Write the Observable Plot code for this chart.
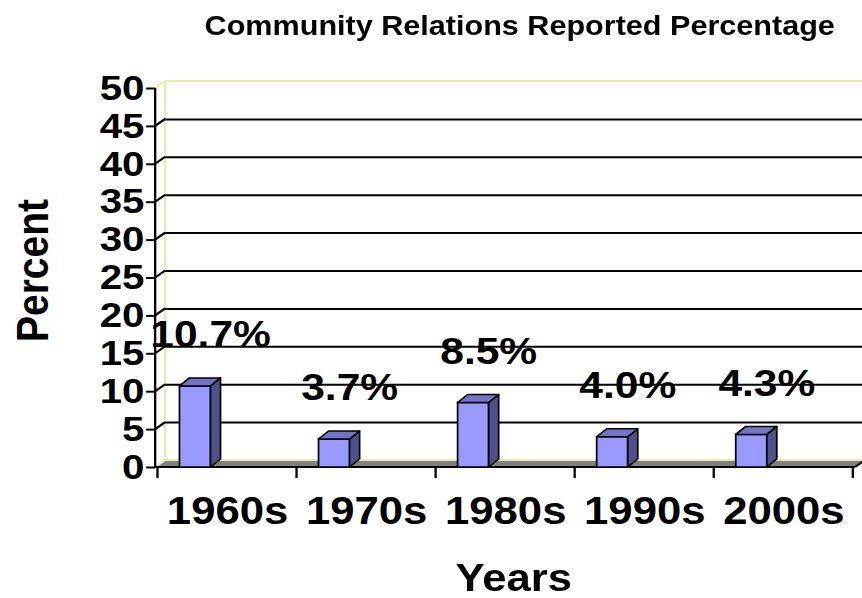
<!DOCTYPE html>
<html>
<head>
<meta charset="utf-8">
<script src="https://cdn.jsdelivr.net/npm/d3@7"></script>
<script src="https://cdn.jsdelivr.net/npm/@observablehq/plot@0.6"></script>
<style>
  html, body { margin: 0; padding: 0; background: #fff; }
  #wrap { width: 750px; transform-origin: 0 0; font-family: "Liberation Sans", Arial, sans-serif; }
  #title { position: relative; height: 50px; }
  #title span { position: absolute; top: 12.3px; left: 178.4px; font-weight: bold; font-size: 28px; line-height: 1; white-space: nowrap; color: #000; transform: scaleX(0.95); transform-origin: 0 0; }
</style>
</head>
<body>
<div id="wrap">
  <div id="title"><span>Community Relations Reported Percentage</span></div>
  <div id="chart"></div>
</div>
<script>
const categories = ["1960s", "1970s", "1980s", "1990s", "2000s"];
const values = [10.7, 3.7, 8.5, 4.0, 4.3];
const valueLabels = ["10.7%", "3.7%", "8.5%", "4.0%", "4.3%"];
const yTicks = [0, 5, 10, 15, 20, 25, 30, 35, 40, 45, 50];

const W = 750, FINAL_W = 862, S = FINAL_W / W;
document.getElementById("wrap").style.transform = `scaleX(${S})`;

const data = categories.map((c, i) => ({cat: c, value: values[i], label: valueLabels[i]}));

const DX = 10 / S, DY = 7, BDY = 8;
const insetL = 22 / S, insetR = 86 / S;
const pale = "#EDEAAF";

function wallAndFloor(index, scales, values, dims) {
  const x = scales.x, y = scales.y;
  const fl = dims.marginLeft, fr = dims.width - dims.marginRight;
  const y0 = y(0), yTop = y(yTicks[yTicks.length - 1]);
  const g = d3.create("svg:g");
  g.append("polygon")
    .attr("points", [[fl, y0], [fl + DX, y0 - DY], [fr + DX, y0 - DY], [fr, y0]].map(p => p.join(",")).join(" "))
    .attr("fill", "#808080");
  const paleLines = [
    [fl + DX, y0 - DY, fr + DX, y0 - DY],
    [fl + DX, y0 - DY, fl + DX, yTop - DY],
    [fl + DX, yTop - DY, fr + DX, yTop - DY]
  ];
  for (const [a, b, c, d] of paleLines)
    g.append("line").attr("x1", a).attr("y1", b).attr("x2", c).attr("y2", d)
      .attr("stroke", pale).attr("stroke-width", 2);
  for (const t of yTicks) {
    const edge = t === yTicks[0] || t === yTicks[yTicks.length - 1];
    g.append("line").attr("x1", fl).attr("y1", y(t)).attr("x2", fl + DX).attr("y2", y(t) - DY)
      .attr("stroke", edge ? pale : "#000").attr("stroke-width", 2);
  }
  return g.node();
}

function axesLines(index, scales, values, dims) {
  const x = scales.x, y = scales.y;
  const fl = dims.marginLeft, fr = dims.width - dims.marginRight;
  const y0 = y(0), yTop = y(yTicks[yTicks.length - 1]);
  const g = d3.create("svg:g").attr("stroke", "#000").attr("stroke-width", 2);
  g.append("line").attr("x1", fl).attr("x2", fl).attr("y1", yTop).attr("y2", y0 + 1);
  g.append("line").attr("x1", fl).attr("x2", fr).attr("y1", y0).attr("y2", y0);
  const bounds = categories.map(c => x(c)).concat([x(categories[categories.length - 1]) + x.bandwidth()]);
  for (const b of bounds)
    g.append("line").attr("x1", b).attr("x2", b).attr("y1", y0).attr("y2", y0 + 11);
  g.append("line").attr("x1", fr).attr("y1", y0).attr("x2", fr + DX).attr("y2", y0 - DY);
  return g.node();
}

function barDepth(index, scales, values, dims) {
  const x = scales.x, y = scales.y, bw = x.bandwidth();
  const g = d3.create("svg:g").attr("stroke", "#000").attr("stroke-width", 1.5).attr("stroke-linejoin", "round");
  for (const d of data) {
    const L = x(d.cat) + insetL, R = x(d.cat) + bw - insetR;
    const T = y(d.value), B = y(0);
    g.append("polygon")
      .attr("points", [[R, B], [R, T], [R + DX, T - BDY], [R + DX, B - BDY]].map(p => p.join(",")).join(" "))
      .attr("fill", "#50508C");
    g.append("polygon")
      .attr("points", [[L, T], [R, T], [R + DX, T - BDY], [L + DX, T - BDY]].map(p => p.join(",")).join(" "))
      .attr("fill", "#7474C6");
  }
  return g.node();
}

const plot = Plot.plot({
  width: W,
  height: 548,
  marginLeft: 135,
  marginRight: 6,
  marginTop: 38,
  marginBottom: 131,
  x: {domain: categories, padding: 0, axis: null, label: null},
  y: {domain: [0, 50], axis: null, label: null},
  style: {fontFamily: "'Liberation Sans', Arial, sans-serif", fontWeight: "bold", background: "#fff", color: "#000", overflow: "visible"},
  marks: [
    wallAndFloor,
    Plot.ruleY(yTicks.slice(1, -1), {dx: DX, dy: -DY, stroke: "#000", strokeWidth: 2}),
    axesLines,
    Plot.barY(data, {x: "cat", y: "value", fill: "#9999FF", stroke: "#000", strokeWidth: 1.5, insetLeft: insetL, insetRight: insetR}),
    barDepth,
    Plot.text(data, {x: "cat", y: "value", text: "label", dx: -17 / S, dy: -39, lineAnchor: "bottom", fontSize: 37, fontWeight: "bold", fill: "#000"}),
    Plot.axisY({ticks: yTicks, tickSize: 9 / S, tickPadding: 2, fontSize: 35, fontWeight: "bold", strokeWidth: 2, label: null, tickFormat: d => String(d)}),
    Plot.axisX({tickSize: 0, tickPadding: 30, fontSize: 38, fontWeight: "bold", label: null}),
    Plot.text(["Percent"], {frameAnchor: "left", rotate: -90, dx: -106.3, dy: -7.5, fontSize: 39, fontWeight: "bold", textAnchor: "middle", lineAnchor: "middle", fill: "#000"}),
    Plot.text(["Years"], {frameAnchor: "bottom", dx: 7, dy: 123, fontSize: 38, fontWeight: "bold", lineAnchor: "bottom", fill: "#000"})
  ]
});
document.getElementById("chart").appendChild(plot);
</script>
</body>
</html>
